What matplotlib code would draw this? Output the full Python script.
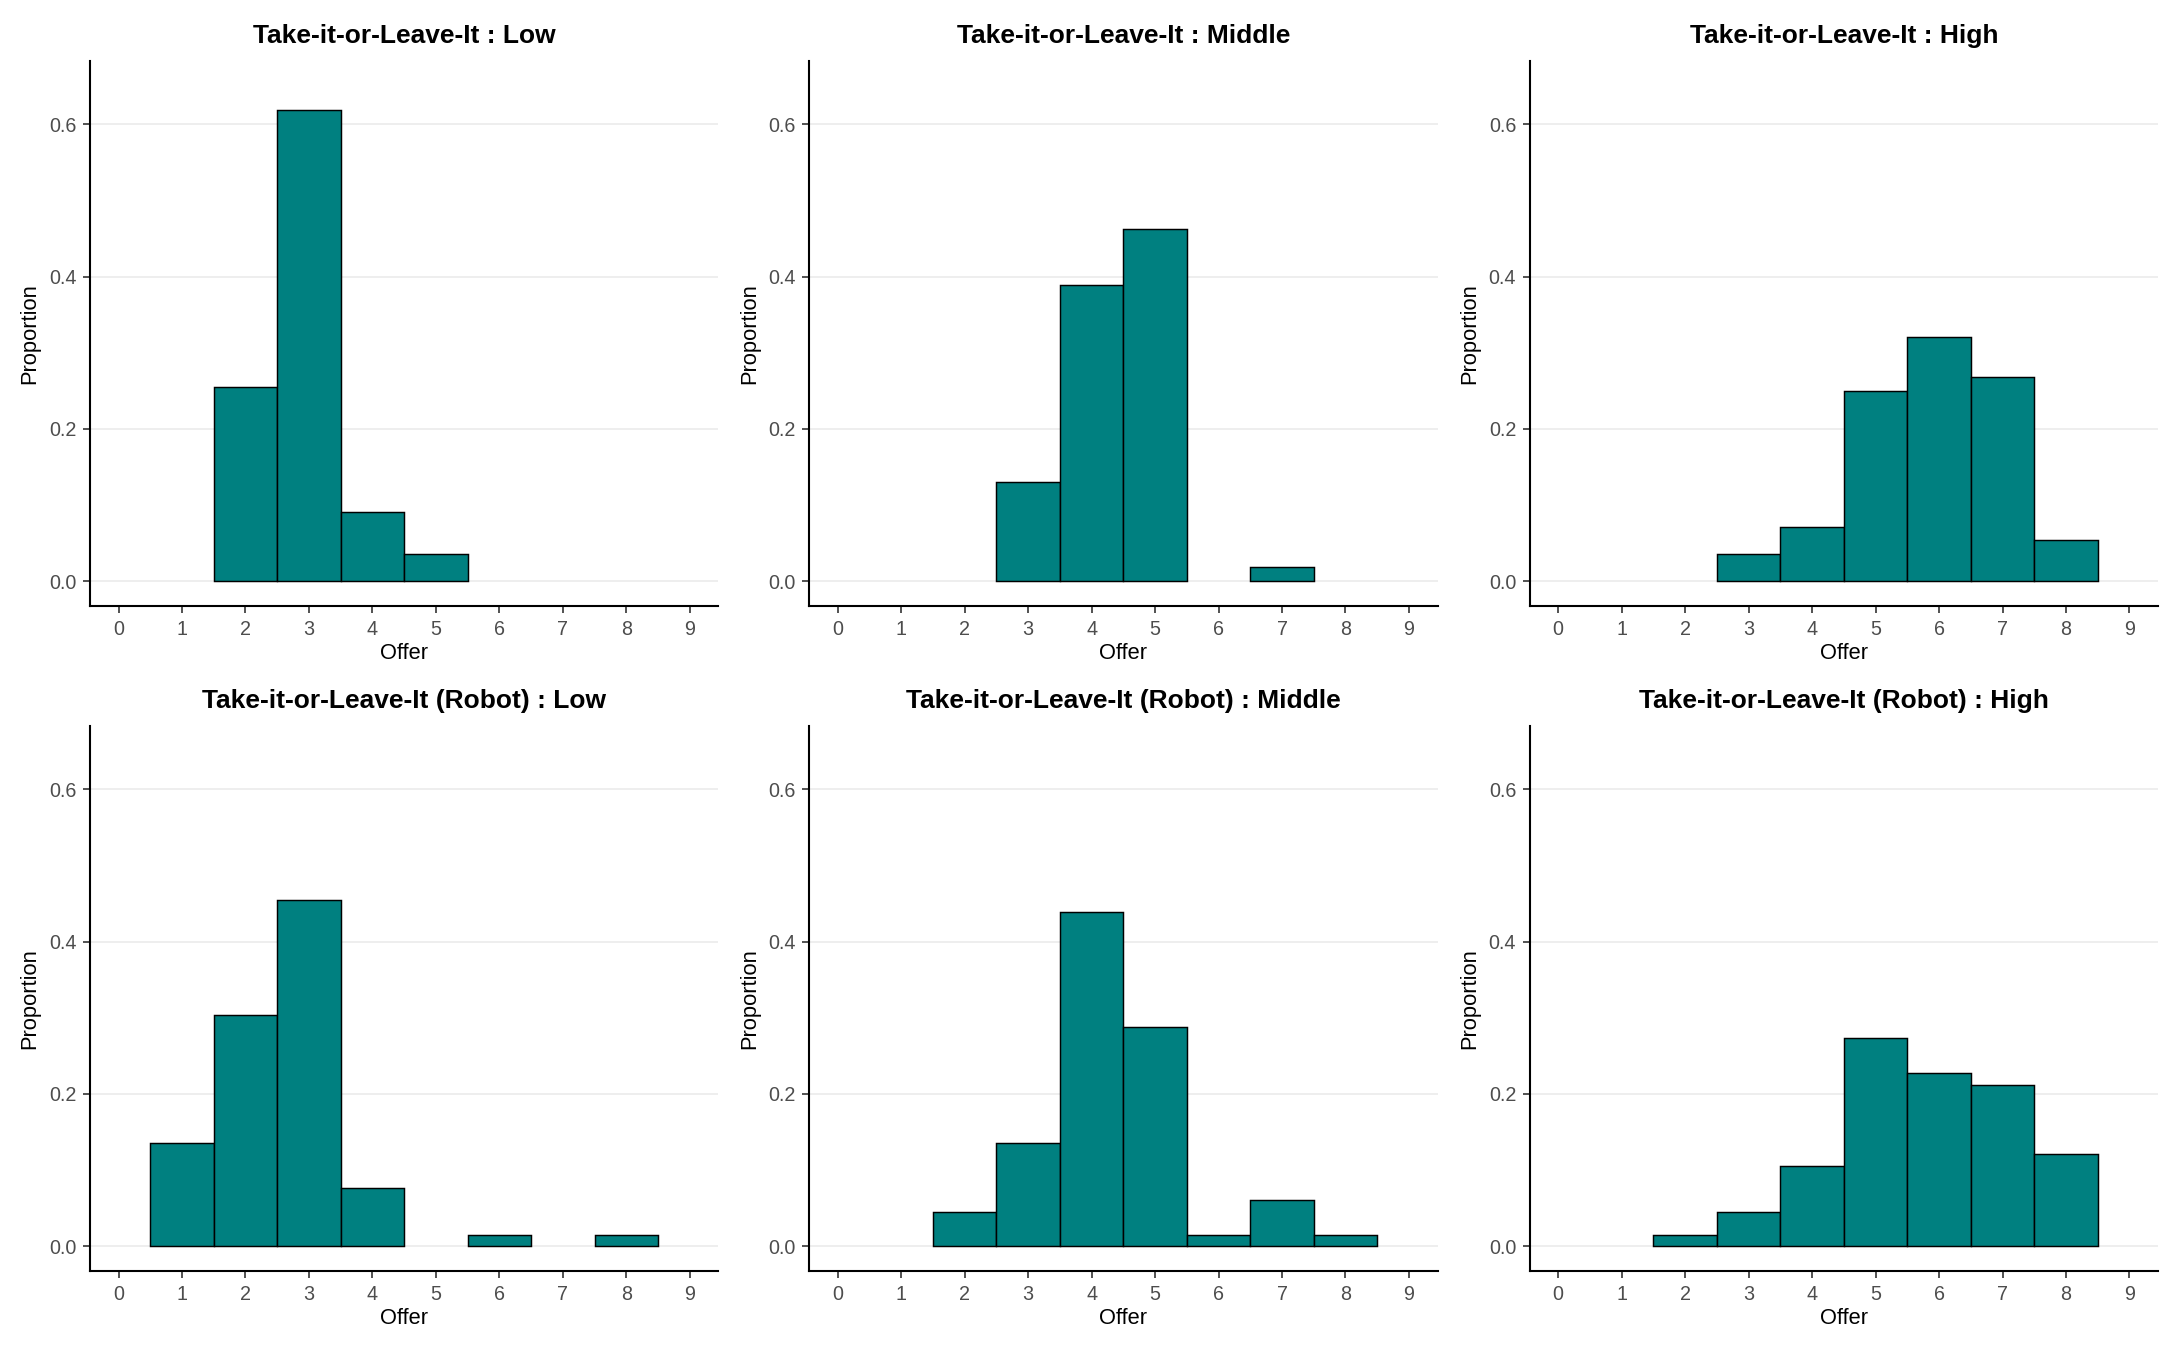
import matplotlib
matplotlib.use("Agg")
import matplotlib.pyplot as plt

plt.rcParams.update({
    "font.family": ["Liberation Sans", "DejaVu Sans"],
    "figure.dpi": 150,
})

TEAL = "#008080"
GRID = "#EBEBEB"
TICK_COLOR = "#4D4D4D"

# ── data: proportion of offers per value ────────────────────────────────
ttl_low_offer = [2, 3, 4, 5]
ttl_low_prop = [0.255, 0.618, 0.091, 0.036]

ttl_mid_offer = [3, 4, 5, 7]
ttl_mid_prop = [0.130, 0.389, 0.463, 0.019]

ttl_high_offer = [3, 4, 5, 6, 7, 8]
ttl_high_prop = [0.036, 0.071, 0.250, 0.321, 0.268, 0.054]

robot_low_offer = [1, 2, 3, 4, 6, 8]
robot_low_prop = [0.136, 0.303, 0.455, 0.076, 0.015, 0.015]

robot_mid_offer = [2, 3, 4, 5, 6, 7, 8]
robot_mid_prop = [0.045, 0.136, 0.439, 0.288, 0.015, 0.061, 0.015]

robot_high_offer = [2, 3, 4, 5, 6, 7, 8]
robot_high_prop = [0.015, 0.045, 0.106, 0.273, 0.227, 0.212, 0.121]

titles = [
    "Take-it-or-Leave-It : Low",
    "Take-it-or-Leave-It : Middle",
    "Take-it-or-Leave-It : High",
    "Take-it-or-Leave-It (Robot) : Low",
    "Take-it-or-Leave-It (Robot) : Middle",
    "Take-it-or-Leave-It (Robot) : High",
]
panels = [
    (ttl_low_offer, ttl_low_prop),
    (ttl_mid_offer, ttl_mid_prop),
    (ttl_high_offer, ttl_high_prop),
    (robot_low_offer, robot_low_prop),
    (robot_mid_offer, robot_mid_prop),
    (robot_high_offer, robot_high_prop),
]
x_ticks = list(range(10))
y_ticks = [0.0, 0.2, 0.4, 0.6]


def hist_panel(ax, offers, props, title):
    for y in y_ticks:
        ax.axhline(y, color=GRID, linewidth=0.8, zorder=0)
    ax.bar(offers, props, width=1.0, color=TEAL, edgecolor="black",
           linewidth=0.7, zorder=2)
    ax.set_xlim(-0.45, 9.45)
    ax.set_ylim(-0.0325, 0.6825)
    ax.set_xticks(x_ticks)
    ax.set_yticks(y_ticks)
    ax.set_yticklabels([f"{v:.1f}" for v in y_ticks])
    ax.spines["top"].set_visible(False)
    ax.spines["right"].set_visible(False)
    for s in ("left", "bottom"):
        ax.spines[s].set_linewidth(1.0)
        ax.spines[s].set_color("black")
    ax.tick_params(axis="both", length=3.5, width=0.8, color="#333333",
                   labelsize=9.5, labelcolor=TICK_COLOR, pad=3)
    ax.set_xlabel("Offer", fontsize=10.5, labelpad=2)
    ax.set_ylabel("Proportion", fontsize=10.5, labelpad=4)
    ax.set_title(title, fontsize=12.7, fontweight="bold", pad=9)


fig = plt.figure(figsize=(14.56, 9.0))
lefts = [0.0412, 0.3705, 0.7004]
bottoms = [0.5511, 0.0585]
width, height = 0.2877, 0.4035

for i, ((offers, props), title) in enumerate(zip(panels, titles)):
    row, col = divmod(i, 3)
    ax = fig.add_axes([lefts[col], bottoms[row], width, height])
    hist_panel(ax, offers, props, title)

fig.savefig("out.png", dpi=150)
plt.close(fig)
